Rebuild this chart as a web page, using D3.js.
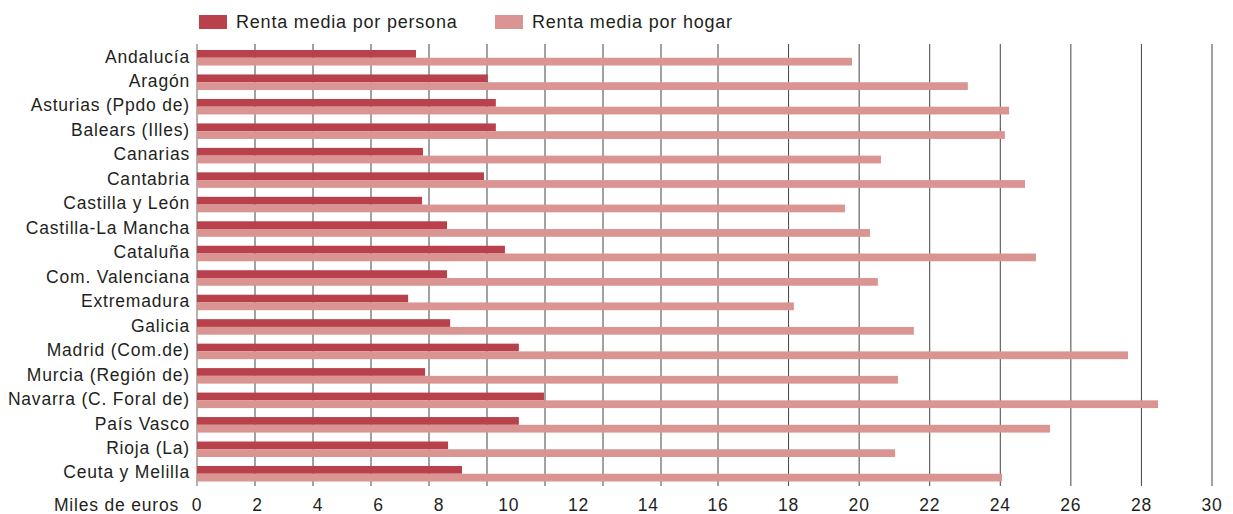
<!DOCTYPE html>
<html>
<head>
<meta charset="utf-8">
<script src="https://cdn.jsdelivr.net/npm/d3@7.9.0/dist/d3.min.js"></script>
<style>
  body { margin: 0; background: #fff; }
  svg { display: block; }
  text { font-family: "Liberation Sans", Arial, sans-serif; fill: #231f20; letter-spacing: 0.8px; }
</style>
</head>
<body>
<svg id="chart" width="1233" height="514"></svg>
<script>
const regions = [
  'Andalucía', 'Aragón', 'Asturias (Ppdo de)', 'Balears (Illes)', 'Canarias',
  'Cantabria', 'Castilla y León', 'Castilla-La Mancha', 'Cataluña',
  'Com. Valenciana', 'Extremadura', 'Galicia', 'Madrid (Com.de)',
  'Murcia (Región de)', 'Navarra (C. Foral de)', 'País Vasco', 'Rioja (La)',
  'Ceuta y Melilla'
];
const seriesNames = ['Renta media por persona', 'Renta media por hogar'];
// miles de euros
const rentaPersona = [7.24, 9.40, 9.63, 9.63, 7.47, 9.29, 7.44, 8.23, 9.89,
  8.23, 6.98, 8.32, 10.29, 7.54, 11.01, 10.29, 8.26, 8.66];
const rentaHogar = [19.80, 23.08, 24.25, 24.13, 20.62, 24.70, 19.60, 20.31, 25.01,
  20.53, 18.15, 21.55, 27.62, 21.10, 28.47, 25.41, 21.02, 24.05];
const tickValues = d3.range(0, 31, 2);
const gridLeft = d3.range(0, 17, 2);   // the printed grid is uneven left of 16
const gridRight = d3.range(16, 31, 2);

const colors = d3.scaleOrdinal().domain(seriesNames).range(['#b9414c', '#da9491']);

const svg = d3.select('#chart');

// the original axis is not linear, so piecewise
const x = d3.scaleLinear().domain([0, 8, 16, 30]).range([197, 439, 718, 1212]);
const xGrid = d3.scaleLinear().domain([0, 16]).range([197, 661]);

const y = d3.scaleBand().domain(regions).range([50, 481.5]).paddingInner(0.366).paddingOuter(0);
const ySub = d3.scaleBand().domain(seriesNames).range([0, y.bandwidth()]);

// grid
const gridG = svg.append('g');
gridG.selectAll('line.l')
  .data(gridLeft)
  .join('line')
  .attr('x1', d => xGrid(d)).attr('x2', d => xGrid(d))
  .attr('y1', 44).attr('y2', 486)
  .attr('stroke', d => d === 0 ? '#666' : '#444')
  .attr('stroke-width', 1);
gridG.selectAll('line.r')
  .data(gridRight)
  .enter().append('line')
  .attr('x1', d => x(d)).attr('x2', d => x(d))
  .attr('y1', 44).attr('y2', 486)
  .attr('stroke', '#444')
  .attr('stroke-width', 1);

// bars
const rows = regions.map((r, i) => ({ region: r, values: [rentaPersona[i], rentaHogar[i]] }));
const rowG = svg.append('g').selectAll('g')
  .data(rows)
  .join('g')
  .attr('transform', d => `translate(0,${y(d.region)})`);

rowG.selectAll('rect')
  .data(d => d.values.map((v, j) => ({ key: seriesNames[j], value: v })))
  .join('rect')
  .attr('x', x(0))
  .attr('y', d => ySub(d.key))
  .attr('width', d => x(d.value) - x(0))
  .attr('height', ySub.bandwidth())
  .attr('fill', d => colors(d.key));

// category labels
svg.append('g').selectAll('text')
  .data(regions)
  .join('text')
  .attr('x', 190)
  .attr('y', d => y(d) + 12.5)
  .attr('text-anchor', 'end')
  .attr('font-size', 17.5)
  .text(d => d);

// x tick labels
svg.append('g').selectAll('text')
  .data(tickValues)
  .join('text')
  .attr('x', d => x(d))
  .attr('y', 511)
  .attr('text-anchor', 'middle')
  .attr('font-size', 17.5)
  .text(d => d);

svg.append('text')
  .attr('x', 179)
  .attr('y', 511)
  .attr('text-anchor', 'end')
  .attr('font-size', 17.5)
  .text('Miles de euros');

// legend
const legendX = [199, 495];
const legend = svg.append('g').selectAll('g')
  .data(seriesNames)
  .join('g')
  .attr('transform', (d, i) => `translate(${legendX[i]},15)`);
legend.append('rect')
  .attr('width', 28).attr('height', 14)
  .attr('fill', d => colors(d));
legend.append('text')
  .attr('x', 37).attr('y', 12.5)
  .attr('font-size', 18)
  .text(d => d);
</script>
</body>
</html>
